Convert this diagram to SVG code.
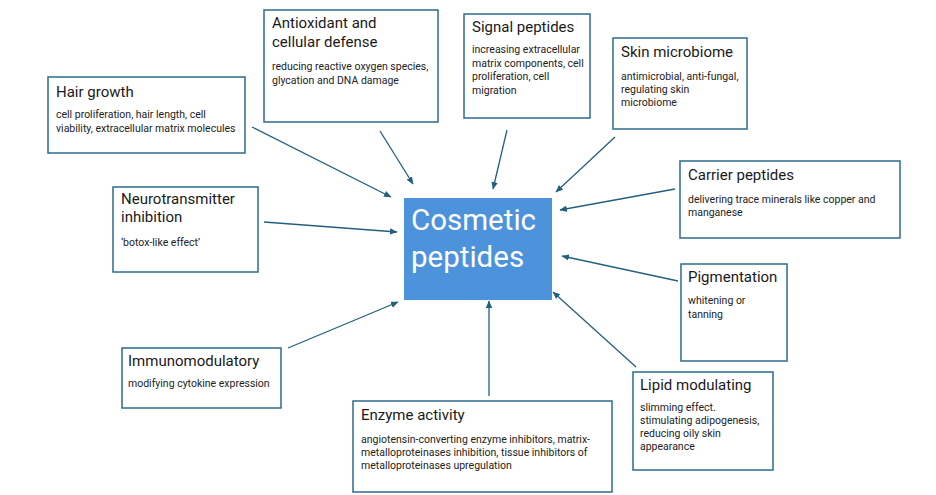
<svg xmlns="http://www.w3.org/2000/svg" width="936" height="495" viewBox="0 0 936 495">
<defs>
<style>
.box{fill:#fff;stroke:#2d6b8c;stroke-width:1.5}
.t{font-family:Roboto,"Liberation Sans",sans-serif;font-size:15px;fill:#1a1a1a}
.b{font-family:Roboto,"Liberation Sans",sans-serif;font-size:10.5px;fill:#222}
.c{font-family:Roboto,"Liberation Sans",sans-serif;font-size:29.5px;fill:#fff}
.a{stroke:#23607f;stroke-width:1.3;fill:none;marker-end:url(#ah)}
</style>
<marker id="ah" markerWidth="8" markerHeight="8" refX="7" refY="4" orient="auto" markerUnits="userSpaceOnUse">
<path d="M0,0.8 L7.5,4 L0,7.2 Z" fill="#23607f"/>
</marker>
</defs>
<rect width="936" height="495" fill="#fff"/>
<g id="connectors">
<line class="a" x1="252" y1="127" x2="391" y2="197"/>
<line class="a" x1="380" y1="131" x2="413" y2="184"/>
<line class="a" x1="507" y1="130" x2="493" y2="189"/>
<line class="a" x1="615" y1="137" x2="556" y2="192"/>
<line class="a" x1="675" y1="189" x2="560" y2="210"/>
<line class="a" x1="264" y1="222" x2="397" y2="232"/>
<line class="a" x1="678" y1="281" x2="562" y2="256"/>
<line class="a" x1="288" y1="348" x2="398" y2="302"/>
<line class="a" x1="489" y1="396" x2="489" y2="301"/>
<line class="a" x1="636" y1="367" x2="553" y2="292"/>
</g>
<g id="center">
<rect x="404" y="198" width="148" height="102" fill="#4d93dc"/>
<text class="c" x="411" y="230">Cosmetic</text>
<text class="c" x="411" y="267">peptides</text>
</g>
<g id="hair">
<rect class="box" x="48" y="77" width="197" height="76"/>
<text class="t" x="56" y="97">Hair growth</text>
<text class="b" x="56" y="118">cell proliferation, hair length, cell</text>
<text class="b" x="56" y="132">viability, extracellular matrix molecules</text>
</g>
<g id="antioxidant">
<rect class="box" x="264" y="10" width="174" height="112"/>
<text class="t" x="272" y="28">Antioxidant and</text>
<text class="t" x="272" y="47">cellular defense</text>
<text class="b" x="272" y="70">reducing reactive oxygen species,</text>
<text class="b" x="272" y="84">glycation and DNA damage</text>
</g>
<g id="signal">
<rect class="box" x="464" y="14" width="126" height="104"/>
<text class="t" x="472" y="32">Signal peptides</text>
<text class="b" x="472" y="53">increasing extracellular</text>
<text class="b" x="472" y="67">matrix components, cell</text>
<text class="b" x="472" y="80">proliferation, cell</text>
<text class="b" x="472" y="94">migration</text>
</g>
<g id="microbiome">
<rect class="box" x="613" y="38" width="134" height="91"/>
<text class="t" x="621" y="57">Skin microbiome</text>
<text class="b" x="621" y="80">antimicrobial, anti-fungal,</text>
<text class="b" x="621" y="93">regulating skin</text>
<text class="b" x="621" y="106">microbiome</text>
</g>
<g id="carrier">
<rect class="box" x="680" y="161" width="220" height="77"/>
<text class="t" x="688" y="180">Carrier peptides</text>
<text class="b" x="688" y="203">delivering trace minerals like copper and</text>
<text class="b" x="688" y="216">manganese</text>
</g>
<g id="neuro">
<rect class="box" x="113" y="187" width="145" height="85"/>
<text class="t" x="121" y="204">Neurotransmitter</text>
<text class="t" x="121" y="222">inhibition</text>
<text class="b" x="121" y="246">‘botox-like effect’</text>
</g>
<g id="pigmentation">
<rect class="box" x="681" y="264" width="106" height="97"/>
<text class="t" x="688" y="282">Pigmentation</text>
<text class="b" x="688" y="304">whitening or</text>
<text class="b" x="688" y="318">tanning</text>
</g>
<g id="immuno">
<rect class="box" x="122" y="348" width="159" height="60"/>
<text class="t" x="128" y="366">Immunomodulatory</text>
<text class="b" x="128" y="387">modifying cytokine expression</text>
</g>
<g id="enzyme">
<rect class="box" x="353" y="401" width="259" height="91"/>
<text class="t" x="361" y="420">Enzyme activity</text>
<text class="b" x="361" y="443">angiotensin-converting enzyme inhibitors, matrix-</text>
<text class="b" x="361" y="456">metalloproteinases inhibition, tissue inhibitors of</text>
<text class="b" x="361" y="469">metalloproteinases upregulation</text>
</g>
<g id="lipid">
<rect class="box" x="633" y="372" width="140" height="98"/>
<text class="t" x="640" y="390">Lipid modulating</text>
<text class="b" x="640" y="411">slimming effect.</text>
<text class="b" x="640" y="424">stimulating adipogenesis,</text>
<text class="b" x="640" y="437">reducing oily skin</text>
<text class="b" x="640" y="450">appearance</text>
</g>
</svg>
